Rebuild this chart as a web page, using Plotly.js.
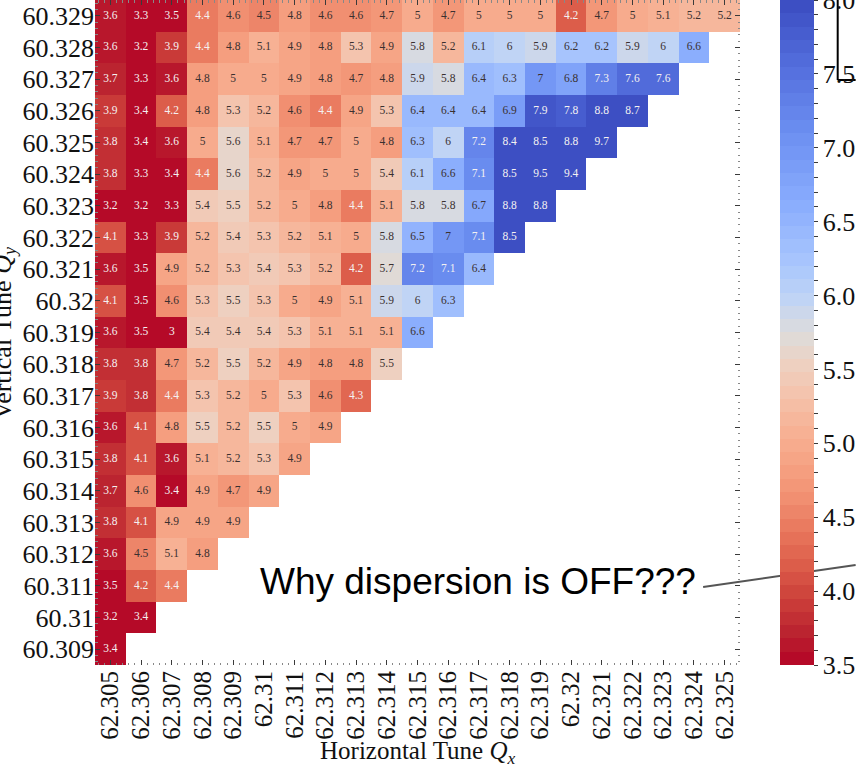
<!DOCTYPE html>
<html>
<head>
<meta charset="utf-8">
<script src="https://cdn.plot.ly/plotly-3.0.1.min.js"></script>
<style>
  html, body { margin: 0; padding: 0; background: #fff; }
  #chart { width: 856px; height: 768px; }
</style>
</head>
<body>
<div id="chart"></div>
<script>
// Tune scan grid: horizontal tunes (columns) and vertical tunes (rows, top to bottom)
const xLabels = ['62.305','62.306','62.307','62.308','62.309','62.31','62.311','62.312','62.313','62.314',
                 '62.315','62.316','62.317','62.318','62.319','62.32','62.321','62.322','62.323','62.324','62.325'];
const yLabels = ['60.329','60.328','60.327','60.326','60.325','60.324','60.323','60.322','60.321','60.32',
                 '60.319','60.318','60.317','60.316','60.315','60.314','60.313','60.312','60.311','60.31','60.309'];

// Measured values per row (same order as yLabels), starting at the first column
const cellValues = [
  [3.6,3.3,3.5,4.4,4.6,4.5,4.8,4.6,4.6,4.7,5,4.7,5,5,5,4.2,4.7,5,5.1,5.2,5.2],
  [3.6,3.2,3.9,4.4,4.8,5.1,4.9,4.8,5.3,4.9,5.8,5.2,6.1,6,5.9,6.2,6.2,5.9,6,6.6],
  [3.7,3.3,3.6,4.8,5,5,4.9,4.8,4.7,4.8,5.9,5.8,6.4,6.3,7,6.8,7.3,7.6,7.6],
  [3.9,3.4,4.2,4.8,5.3,5.2,4.6,4.4,4.9,5.3,6.4,6.4,6.4,6.9,7.9,7.8,8.8,8.7],
  [3.8,3.4,3.6,5,5.6,5.1,4.7,4.7,5,4.8,6.3,6,7.2,8.4,8.5,8.8,9.7],
  [3.8,3.3,3.4,4.4,5.6,5.2,4.9,5,5,5.4,6.1,6.6,7.1,8.5,9.5,9.4],
  [3.2,3.2,3.3,5.4,5.5,5.2,5,4.8,4.4,5.1,5.8,5.8,6.7,8.8,8.8],
  [4.1,3.3,3.9,5.2,5.4,5.3,5.2,5.1,5,5.8,6.5,7,7.1,8.5],
  [3.6,3.5,4.9,5.2,5.3,5.4,5.3,5.2,4.2,5.7,7.2,7.1,6.4],
  [4.1,3.5,4.6,5.3,5.5,5.3,5,4.9,5.1,5.9,6,6.3],
  [3.6,3.5,3,5.4,5.4,5.4,5.3,5.1,5.1,5.1,6.6],
  [3.8,3.8,4.7,5.2,5.5,5.2,4.9,4.8,4.8,5.5],
  [3.9,3.8,4.4,5.3,5.2,5,5.3,4.6,4.3],
  [3.6,4.1,4.8,5.5,5.2,5.5,5,4.9],
  [3.8,4.1,3.6,5.1,5.2,5.3,4.9],
  [3.7,4.6,3.4,4.9,4.7,4.9],
  [3.8,4.1,4.9,4.9,4.9],
  [3.6,4.5,5.1,4.8],
  [3.5,4.2,4.4],
  [3.2,3.4],
  [3.4]
];

// Axis titles, colour range and colour-bar labels
const xTitle = 'Horizontal Tune <i>Q</i><sub><i>x</i></sub>';
const yTitle = 'Vertical Tune <i>Q</i><sub><i>y</i></sub>';
const zMin = 3.5, zMax = 8.0;
const colorbarLabels = [3.5, 4.0, 4.5, 5.0, 5.5, 6.0, 6.5, 7.0, 7.5, 8.0];

// ---------------------------------------------------------------------------
const xTunes = xLabels.map(Number);
const yTunes = yLabels.map(Number);
const nCols = xTunes.length;

// pad rows with gaps so the grid is rectangular
const zGrid = cellValues.map(row => row.concat(new Array(nCols - row.length).fill(null)));

// coolwarm anchors (blue -> grey -> red); used reversed so low values are red
const coolwarm = [
  [0.000, '#3b4cc0'], [0.100, '#536edd'], [0.200, '#6c8ff1'], [0.300, '#88abfd'],
  [0.400, '#aac7fd'], [0.450, '#c0d4f5'], [0.500, '#dddcdc'], [0.550, '#eed0c0'],
  [0.600, '#f5c1a9'], [0.650, '#f7b194'], [0.700, '#f6a283'], [0.750, '#f18f71'],
  [0.800, '#e8765c'], [0.850, '#dc5d4a'], [0.900, '#cc403a'], [0.950, '#bb2430'],
  [1.000, '#b40426']
];
function hexToRgb(h) { return [1,3,5].map(i => parseInt(h.slice(i, i + 2), 16)); }
function coolwarmAt(t) {
  t = Math.max(0, Math.min(1, t));
  for (let i = 1; i < coolwarm.length; i++) {
    if (t <= coolwarm[i][0]) {
      const [t0, c0] = coolwarm[i - 1], [t1, c1] = coolwarm[i];
      const f = (t - t0) / (t1 - t0);
      const a = hexToRgb(c0), b = hexToRgb(c1);
      const c = a.map((v, k) => Math.round(v + (b[k] - v) * f));
      return `rgb(${c[0]},${c[1]},${c[2]})`;
    }
  }
  return coolwarm[coolwarm.length - 1][1];
}
// stepped colour scale
const nBands = 50;
const colorscale = [];
for (let k = 0; k < nBands; k++) {
  const c = coolwarmAt(1 - (k + 0.5) / nBands);
  colorscale.push([k / nBands, c], [(k + 1) / nBands, c]);
}

// colour-bar ticks: labelled every 0.5 with four unlabelled ticks between
const cbTickVals = [], cbTickText = [];
colorbarLabels.forEach((v, i) => {
  cbTickVals.push(v); cbTickText.push(v.toFixed(1));
  if (i < colorbarLabels.length - 1) {
    const step = (colorbarLabels[i + 1] - v) / 5;
    for (let m = 1; m < 5; m++) { cbTickVals.push(v + m * step); cbTickText.push(''); }
  }
});

// cell labels
const txtX = [], txtY = [], txtS = [], txtC = [];
cellValues.forEach((row, i) => row.forEach((v, j) => {
  txtX.push(xTunes[j]); txtY.push(yTunes[i]); txtS.push(String(v));
  txtC.push(v <= 4.45 || v >= 7.05 ? '#f4f1f1' : '#3a3030');
}));

// plot-area geometry (pixels) for paper-coordinate overlays
const box = { left: 95, right: 742, top: 0, bottom: 665 };
const W = 856, H = 768;
const px = x => (x - box.left) / (box.right - box.left);
const py = y => 1 - (y - box.top) / (box.bottom - box.top);

const dx = xTunes[1] - xTunes[0];
const dy = yTunes[0] - yTunes[1];
const xRange = [Math.min(...xTunes) - dx / 2, Math.max(...xTunes) + dx / 2];
const yRange = [Math.min(...yTunes) - dy / 2, Math.max(...yTunes) + dy / 2];

const serif = 'Liberation Serif';
const tickColor = '#3a3a3a';
const bigFont = 26;

const heat = {
  type: 'heatmap',
  x: xTunes,
  y: yTunes.slice().reverse(),
  z: zGrid.slice().reverse(),
  zmin: zMin, zmax: zMax,
  colorscale: colorscale,
  hoverongaps: false,
  colorbar: {
    x: px(782), xanchor: 'left', xpad: 0,
    y: 0.5, yanchor: 'middle', ypad: 0,
    len: 1, lenmode: 'fraction',
    thickness: 34, thicknessmode: 'pixels',
    outlinewidth: 0,
    tickmode: 'array', tickvals: cbTickVals, ticktext: cbTickText,
    ticklabeloverflow: 'allow',
    ticks: 'outside', ticklen: 4, tickwidth: 1, tickcolor: tickColor,
    tickfont: { family: serif, size: bigFont, color: '#111' }
  }
};

const labels = {
  type: 'scatter', mode: 'text',
  x: txtX, y: txtY, text: txtS,
  textposition: 'middle center',
  textfont: { family: serif, size: 11.5, color: txtC },
  hoverinfo: 'skip', showlegend: false
};

const axisCommon = {
  showgrid: false, zeroline: false, showline: false,
  ticks: 'inside', ticklen: 5, tickwidth: 1, tickcolor: tickColor,
  mirror: 'allticks',
  tickfont: { family: serif, size: bigFont, color: '#111' },
  tickmode: 'array'
};

const layout = {
  width: W, height: H,
  font: { family: serif },
  margin: { l: box.left, r: W - box.right, t: box.top, b: H - box.bottom, pad: 0 },
  paper_bgcolor: '#ffffff', plot_bgcolor: '#ffffff',
  showlegend: false,
  xaxis: Object.assign({}, axisCommon, {
    range: xRange, tickvals: xTunes, ticktext: xLabels, tickangle: -90,
    tickfont: { family: serif, size: 25, color: '#111' },
    minor: { ticks: 'inside', ticklen: 2.5, tickwidth: 1, tickcolor: '#888', dtick: dx / 5, tick0: xTunes[0], showgrid: false }
  }),
  yaxis: Object.assign({}, axisCommon, {
    range: yRange, tickvals: yTunes, ticktext: yLabels,
    minor: { ticks: 'inside', ticklen: 2.5, tickwidth: 1, tickcolor: '#888', dtick: dy / 5, tick0: yTunes[0], showgrid: false }
  }),
  annotations: [
    { // horizontal axis title
      xref: 'paper', yref: 'paper', x: 0.5, y: py(752), xanchor: 'center', yanchor: 'middle',
      text: xTitle, showarrow: false, font: { family: serif, size: 25, color: '#111' }
    },
    { // vertical axis title (runs off the left edge)
      xref: 'paper', yref: 'paper', x: px(21), y: 0.5, xanchor: 'right', yanchor: 'middle',
      textangle: -90, text: yTitle, showarrow: false, font: { family: serif, size: bigFont, color: '#111' }
    },
    {
      xref: 'paper', yref: 'paper',
      x: px(259), y: py(581), xanchor: 'left', yanchor: 'middle',
      text: 'Why dispersion is OFF???', showarrow: false,
      font: { family: 'Liberation Sans', size: 37, color: '#000' }
    }
  ],
  shapes: [
    { type: 'line', xref: 'paper', yref: 'paper', x0: px(705), y0: py(587), x1: px(858), y1: py(565),
      line: { color: '#555', width: 2 } },
    { type: 'line', xref: 'paper', yref: 'paper', x0: px(840), y0: py(-2), x1: px(840), y1: py(80),
      line: { color: '#000', width: 2 } },
    { type: 'line', xref: 'paper', yref: 'paper', x0: px(840), y0: py(80), x1: px(858), y1: py(80),
      line: { color: '#000', width: 2 } }
  ]
};

Plotly.newPlot('chart', [heat, labels], layout, { staticPlot: true, displayModeBar: false });
</script>
</body>
</html>
